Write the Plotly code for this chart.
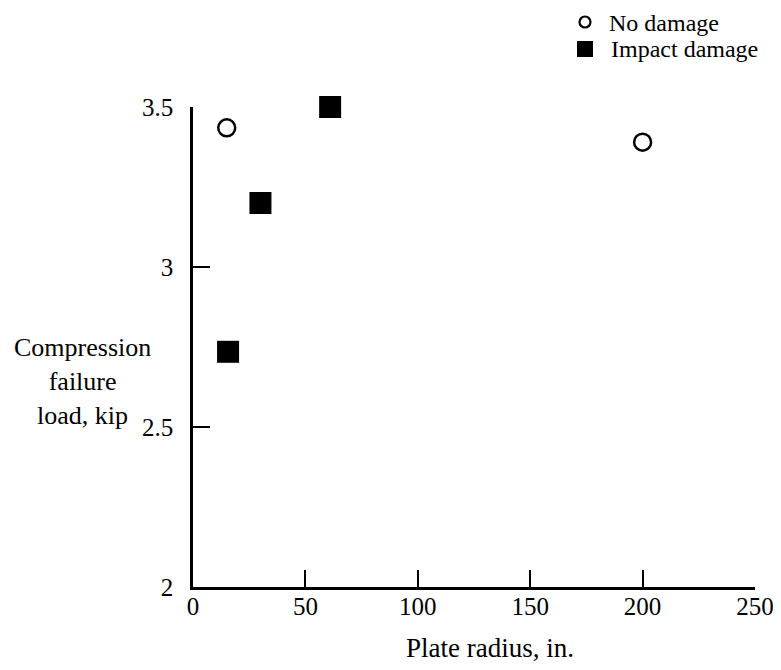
import plotly.graph_objects as go

# Data
no_damage_radius = [15, 200]
no_damage_load = [3.435, 3.39]
impact_radius = [15.6, 30, 61]
impact_load = [2.735, 3.20, 3.50]

x_ticks = [0, 50, 100, 150, 200, 250]
y_ticks = [2, 2.5, 3, 3.5]
y_tick_text = ["2", "2.5", "3", "3.5"]

legend_labels = ["No damage", "Impact damage"]

FONT = "Liberation Serif, Times New Roman, serif"

# page body has an 8px default margin; compensate so the plot lands where intended
OFF = 8
# plot-area geometry in (screen) pixels
PL, PT, PW, PH = 193, 107, 562, 480
L, T = PL - OFF, PT - OFF
R = 781 - L - PW
B = 670 - T - PH


def px(xp):
    return (xp - PL) / PW


def py(yp):
    return (PT + PH - yp) / PH


fig = go.Figure()
fig.add_trace(go.Scatter(
    x=no_damage_radius, y=no_damage_load, mode="markers", name=legend_labels[0],
    marker=dict(symbol="circle-open", size=17, color="black", line=dict(width=2.5, color="black")),
    cliponaxis=False, showlegend=False,
))
fig.add_trace(go.Scatter(
    x=impact_radius, y=impact_load, mode="markers", name=legend_labels[1],
    marker=dict(symbol="square", size=22, color="black"),
    cliponaxis=False, showlegend=False,
))

shapes = [
    dict(type="circle", xref="paper", yref="paper", xsizemode="pixel", ysizemode="pixel",
         xanchor=px(585), yanchor=py(22), x0=-5.5, x1=5.5, y0=-5.5, y1=5.5,
         line=dict(color="black", width=2.2), fillcolor="white"),
    dict(type="rect", xref="paper", yref="paper", xsizemode="pixel", ysizemode="pixel",
         xanchor=px(585), yanchor=py(49), x0=-8, x1=8, y0=-8, y1=8,
         line=dict(color="black", width=0), fillcolor="black"),
]

fig.update_layout(
    width=781, height=670,
    margin=dict(l=L, r=R, t=T, b=B),
    paper_bgcolor="white", plot_bgcolor="white",
    font=dict(family=FONT, size=24, color="black"),
    showlegend=False,
    shapes=shapes,
    xaxis=dict(range=[0, 250], tickvals=x_ticks, showline=True, linecolor="black", linewidth=2.5,
               ticks="inside", ticklen=17, tickwidth=2, tickcolor="black",
               showgrid=False, zeroline=False, mirror=False, ticklabelstandoff=-5,
               automargin=False, tickfont=dict(size=25, family=FONT)),
    yaxis=dict(range=[2, 3.5], tickvals=y_ticks, ticktext=y_tick_text, showline=True,
               linecolor="black", linewidth=2.5,
               ticks="inside", ticklen=17, tickwidth=2, tickcolor="black",
               showgrid=False, zeroline=False, mirror=False, ticklabelstandoff=12,
               automargin=False, tickfont=dict(size=25, family=FONT)),
    annotations=[
        dict(text="Compression<br>failure<br>load, kip", xref="paper", yref="paper",
             x=px(82), y=py(381), xanchor="center", yanchor="middle",
             showarrow=False, align="center", font=dict(size=26, family=FONT)),
        dict(text="Plate radius, in.", xref="paper", yref="paper",
             x=px(490), y=py(648), xanchor="center", yanchor="middle",
             showarrow=False, font=dict(size=27, family=FONT)),
        dict(text=legend_labels[0], xref="paper", yref="paper",
             x=px(607), y=py(23), xanchor="left", yanchor="middle",
             showarrow=False, font=dict(size=24, family=FONT)),
        dict(text=legend_labels[1], xref="paper", yref="paper",
             x=px(609), y=py(49), xanchor="left", yanchor="middle",
             showarrow=False, font=dict(size=24, family=FONT)),
    ],
)

fig.write_html("out.html")
